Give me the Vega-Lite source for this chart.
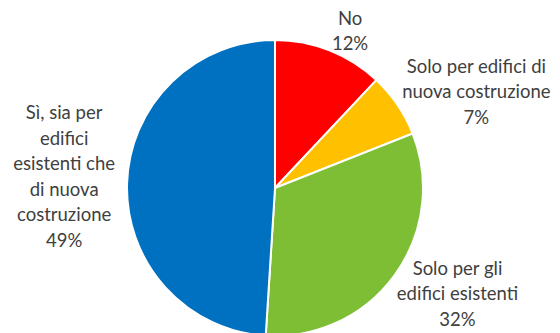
{
  "$schema": "https://vega.github.io/schema/vega-lite/v6.json",
  "autosize": "none",
  "width": 550,
  "height": 290,
  "padding": {"left": 0, "right": 10, "top": 43, "bottom": 0},
  "background": "white",
  "view": {"stroke": null},
  "data": {
    "values": [
      {"i": 1, "cat": "No", "pct": 12, "testo": "No\n12%"},
      {"i": 2, "cat": "Solo per edifici di nuova costruzione", "pct": 7, "testo": "Solo per edifici di\nnuova costruzione\n7%"},
      {"i": 3, "cat": "Solo per gli edifici esistenti", "pct": 32, "testo": "Solo per gli\nedifici esistenti\n32%"},
      {"i": 4, "cat": "Sì, sia per edifici esistenti che di nuova costruzione", "pct": 49, "testo": "Sì, sia per\nedifici\nesistenti che\ndi nuova\ncostruzione\n49%"}
    ]
  },
  "encoding": {
    "theta": {"field": "pct", "type": "quantitative", "stack": true},
    "order": {"field": "i", "type": "quantitative"}
  },
  "layer": [
    {
      "mark": {"type": "arc", "outerRadius": 148, "stroke": "white", "strokeWidth": 2},
      "encoding": {
        "color": {
          "field": "cat",
          "type": "nominal",
          "scale": {
            "domain": ["No", "Solo per edifici di nuova costruzione", "Solo per gli edifici esistenti", "Sì, sia per edifici esistenti che di nuova costruzione"],
            "range": ["#FF0000", "#FFC000", "#7DBE34", "#0070C0"]
          },
          "legend": null
        }
      }
    },
    {
      "mark": {
        "type": "text",
        "radius": 212,
        "font": "Lato",
        "fontSize": 18.5,
        "lineHeight": 25.5,
        "lineBreak": "\n",
        "align": "center",
        "baseline": "middle",
        "color": "#404040",
        "dx": {"expr": "datum.i === 1 ? -3 : datum.i === 2 ? 26 : datum.i === 3 ? 11 : 1"},
        "dy": {"expr": "datum.i === 1 ? 28 : datum.i === 2 ? -2 : datum.i === 3 ? -44 : -68"}
      },
      "encoding": {
        "text": {"field": "testo", "type": "nominal"}
      }
    }
  ]
}
